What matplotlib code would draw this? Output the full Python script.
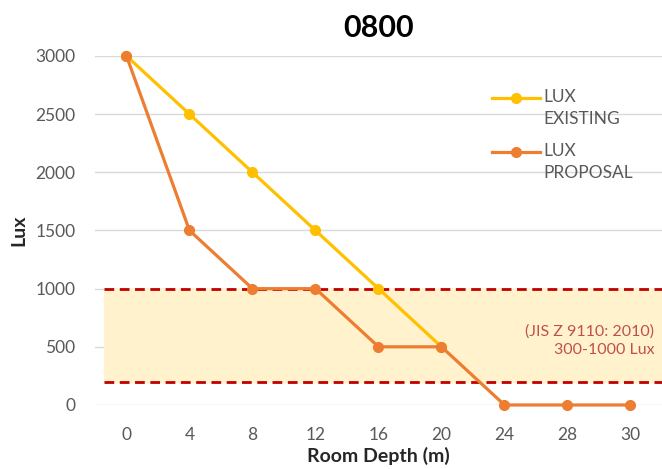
import matplotlib.pyplot as plt
import numpy as np

plt.rcParams['font.family'] = ['Lato', 'DejaVu Sans']

depth = ['0', '4', '8', '12', '16', '20', '24', '28', '30']
lux_existing = [3000, 2500, 2000, 1500, 1000, 500]
lux_proposal = [3000, 1500, 1000, 1000, 500, 500, 0, 0, 0]
band_low = 200
band_high = 1000
yticks = [0, 500, 1000, 1500, 2000, 2500, 3000]
series_names = ['LUX\nEXISTING', 'LUX\nPROPOSAL']
series_colors = ['#FFC000', '#ED7D31']

W, H = 662, 469
fig = plt.figure(figsize=(W / 100, H / 100), dpi=100)
ax = fig.add_axes([0.1435, 0.1365, 0.8565, 0.7441])

x = np.arange(len(depth))
ax.axhspan(band_low, band_high, xmin=0.015, xmax=1, color='#FFF2CC', zorder=1)
ax.axhline(band_high, xmin=0.015, color='#C00000', lw=2, ls=(0, (3.5, 2)), zorder=2)
ax.axhline(band_low, xmin=0.015, color='#C00000', lw=2, ls=(0, (3.5, 2)), zorder=2)

ax.plot(x[:len(lux_existing)], lux_existing, color=series_colors[0], lw=2.3,
        marker='o', ms=7, zorder=3, clip_on=False)
ax.plot(x, lux_proposal, color=series_colors[1], lw=2.3, marker='o', ms=7,
        zorder=4, clip_on=False)

ax.text(8.38, 555, '(JIS Z 9110: 2010)\n300-1000 Lux', color='#C0504D',
        fontsize=11.5, ha='right', va='center', linespacing=1.35, zorder=5)

ax.set_xlim(-0.5, 8.5)
ax.set_ylim(0, 3000)
ax.set_xticks(x)
ax.set_xticklabels(depth)
ax.set_yticks(yticks)
ax.tick_params(length=0, colors='#595959', labelsize=12.5, pad=14)
ax.tick_params(axis='x', pad=16)
ax.grid(axis='y', color='#D9D9D9', lw=1, zorder=0)
ax.set_axisbelow(True)
for s in ax.spines.values():
    s.set_visible(False)

ax.set_title('0800', fontsize=22, fontweight='bold', pad=14)
ax.set_xlabel('Room Depth (m)', fontsize=14, fontweight='bold', color='#262626', labelpad=3)
ax.set_ylabel('Lux', fontsize=14, fontweight='bold', color='#262626', labelpad=6)

# legend drawn by hand: marker line sits on the first label line
for i, (name, col) in enumerate(zip(series_names, series_colors)):
    yp = 1 - (98 + i * 54) / H
    fig.add_artist(plt.Line2D([492 / W, 540 / W], [yp, yp], color=col, lw=2.3))
    fig.add_artist(plt.Line2D([516 / W], [yp], color=col, marker='o', ms=7))
    fig.text(543 / W, yp + 9 / H, name, color='#595959', fontsize=12.5,
             ha='left', va='top', linespacing=1.5)

fig.savefig('out.png', dpi=100)
